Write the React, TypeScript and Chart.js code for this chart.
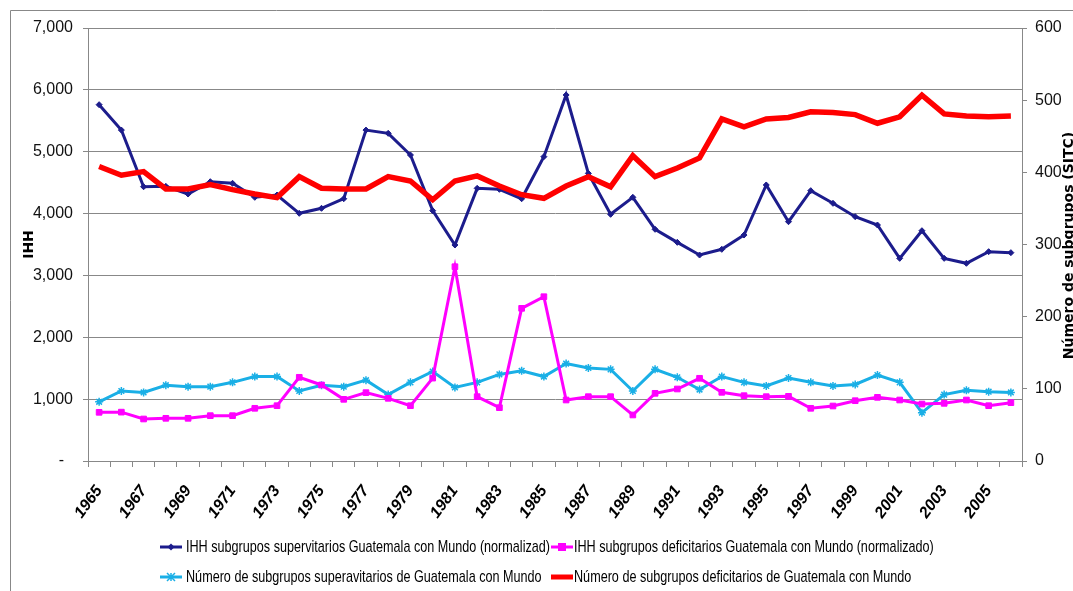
import React, { useEffect, useRef } from 'react';
import { Chart, registerables } from 'chart.js';

Chart.register(...registerables);

const years = [
  '1965', '1966', '1967', '1968', '1969', '1970', '1971', '1972', '1973', '1974',
  '1975', '1976', '1977', '1978', '1979', '1980', '1981', '1982', '1983', '1984',
  '1985', '1986', '1987', '1988', '1989', '1990', '1991', '1992', '1993', '1994',
  '1995', '1996', '1997', '1998', '1999', '2000', '2001', '2002', '2003', '2004',
  '2005', '2006',
];

// IHH subgrupos supervitarios (left axis)
const ihhSuperavit = [
  5760, 5350, 4434, 4440, 4316, 4515, 4489, 4263, 4300, 4004,
  4085, 4240, 5350, 5297, 4947, 4047, 3492, 4408, 4392, 4240,
  4920, 5917, 4650, 3988, 4263, 3746, 3535, 3330, 3422, 3653,
  4462, 3869, 4370, 4166, 3950, 3815, 3276, 3723, 3276, 3196,
  3384, 3368,
];

// IHH subgrupos deficitarios (left axis)
const ihhDeficit = [
  787, 790, 679, 690, 690, 733, 733, 852, 894, 1353,
  1229, 997, 1105, 1013, 894, 1340, 3141, 1040, 862, 2468,
  2656, 986, 1040, 1040, 744, 1094, 1164, 1337, 1110, 1056,
  1040, 1045, 852, 889, 975, 1029, 986, 921, 932, 986,
  894, 943,
];

// Número de subgrupos superavitarios (right axis)
const numSuperavit = [
  82, 97, 95, 105, 103, 103, 109, 117, 117, 97,
  105, 103, 112, 92, 109, 124, 102, 109, 120, 125,
  117, 135, 129, 127, 97, 127, 116, 99, 117, 109,
  104, 115, 109, 104, 106, 119, 109, 67, 92, 98,
  96, 95,
];

// Número de subgrupos deficitarios (right axis)
const numDeficit = [
  408, 396, 401, 377, 377, 383, 376, 370, 365, 394,
  378, 377, 377, 394, 388, 362, 388, 395, 381, 369,
  364, 381, 394, 380, 423, 394, 406, 420, 474, 463,
  474, 476, 484, 483, 480, 468, 477, 507, 481, 478,
  477, 478,
];

const seriesLabels = [
  'IHH subgrupos supervitarios Guatemala con Mundo (normalizad)',
  'IHH subgrupos deficitarios Guatemala con Mundo (normalizado)',
  'Número de subgrupos superavitarios de Guatemala con Mundo',
  'Número de subgrupos deficitarios de Guatemala con Mundo',
];

const leftAxisTitle = 'IHH';
const rightAxisTitle = 'Número de subgrupos (SITC)';

const NAVY = '#1c1c8c';
const MAGENTA = '#ff00ff';
const CYAN = '#1aafe6';
const RED = '#ff0000';
const GRID = '#888888';

const SANS = "'Liberation Sans', Arial, sans-serif";
const BOLDF = "'DejaVu Sans', 'Liberation Sans', sans-serif";

function drawMarker(ctx: CanvasRenderingContext2D, kind: string, x: number, y: number, color: string) {
  ctx.save();
  ctx.fillStyle = color;
  ctx.strokeStyle = color;
  if (kind === 'diamond') {
    const r = 3.5;
    ctx.beginPath();
    ctx.moveTo(x, y - r);
    ctx.lineTo(x + r, y);
    ctx.lineTo(x, y + r);
    ctx.lineTo(x - r, y);
    ctx.closePath();
    ctx.fill();
  } else if (kind === 'square') {
    ctx.fillRect(x - 4, y - 4, 8, 8);
  } else if (kind === 'star') {
    ctx.lineWidth = 1.5;
    const r = 4;
    ctx.beginPath();
    ctx.moveTo(x - r, y - r); ctx.lineTo(x + r, y + r);
    ctx.moveTo(x + r, y - r); ctx.lineTo(x - r, y + r);
    ctx.moveTo(x, y - r); ctx.lineTo(x, y + r);
    ctx.stroke();
  }
  ctx.restore();
}

export default function App() {
  const ref = useRef<HTMLCanvasElement>(null);

  useEffect(() => {
    document.body.style.margin = '0';
    const canvas = ref.current;
    if (!canvas) return;

    const framePlugin = {
      id: 'frame',
      beforeDraw(chart: any) {
        const ctx = chart.ctx as CanvasRenderingContext2D;
        ctx.save();
        ctx.fillStyle = '#ffffff';
        ctx.fillRect(0, 0, chart.width, chart.height);
        ctx.strokeStyle = GRID;
        ctx.lineWidth = 1;
        ctx.beginPath();
        ctx.moveTo(10.5, chart.height);
        ctx.lineTo(10.5, 10.5);
        ctx.lineTo(chart.width + 2, 10.5);
        ctx.stroke();
        ctx.restore();
      },
    };

    const extrasPlugin = {
      id: 'extras',
      afterDraw(chart: any) {
        const ctx = chart.ctx as CanvasRenderingContext2D;
        const area = chart.chartArea;
        // right axis title, reading bottom-to-top
        ctx.save();
        ctx.translate(1069, (area.top + area.bottom) / 2 + 1);
        ctx.rotate(-Math.PI / 2);
        ctx.font = `bold 14px ${BOLDF}`;
        ctx.fillStyle = '#000';
        ctx.textAlign = 'center';
        ctx.textBaseline = 'middle';
        ctx.fillText(rightAxisTitle, 0, 0);
        ctx.restore();

        // legend (two columns, two rows)
        const items = [
          { text: seriesLabels[0], color: NAVY, width: 3, marker: 'diamond' },
          { text: seriesLabels[1], color: MAGENTA, width: 3, marker: 'square' },
          { text: seriesLabels[2], color: CYAN, width: 3, marker: 'star' },
          { text: seriesLabels[3], color: RED, width: 5, marker: 'none' },
        ];
        ctx.save();
        ctx.font = `17px ${SANS}`;
        ctx.textBaseline = 'middle';
        ctx.textAlign = 'left';
        const target = 364;
        const SX = Math.min(1, target / ctx.measureText(items[0].text).width);
        const col1Line = 160;
        const col1Text = 186;
        const w0 = ctx.measureText(items[0].text).width * SX;
        const w2 = ctx.measureText(items[2].text).width * SX;
        const col2Line = Math.max(549, col1Text + Math.max(w0, w2) + 1);
        const col2Text = col2Line + 23;
        const rows = [547, 577];
        items.forEach((it, i) => {
          const row = Math.floor(i / 2);
          const col = i % 2;
          const y = rows[row];
          const lx = col === 0 ? col1Line : col2Line;
          const tx = col === 0 ? col1Text : col2Text;
          ctx.strokeStyle = it.color;
          ctx.lineWidth = it.width;
          ctx.beginPath();
          ctx.moveTo(lx, y);
          ctx.lineTo(lx + 22, y);
          ctx.stroke();
          drawMarker(ctx, it.marker, lx + 11, y, it.color);
          ctx.save();
          ctx.translate(tx, y);
          ctx.scale(SX, 1);
          ctx.fillStyle = '#000';
          ctx.fillText(it.text, 0, 0);
          ctx.restore();
        });
        ctx.restore();
      },
    };

    const chart = new Chart(canvas, {
      type: 'line',
      data: {
        labels: years,
        datasets: [
          {
            label: seriesLabels[0],
            data: ihhSuperavit,
            yAxisID: 'y',
            borderColor: NAVY,
            backgroundColor: NAVY,
            borderWidth: 3,
            pointStyle: 'rectRot',
            pointRadius: 3,
            pointBorderWidth: 1,
            tension: 0,
            order: 1,
          },
          {
            label: seriesLabels[1],
            data: ihhDeficit,
            yAxisID: 'y',
            borderColor: MAGENTA,
            backgroundColor: MAGENTA,
            borderWidth: 3,
            pointStyle: 'rect',
            pointRadius: 4,
            pointBorderWidth: 1,
            tension: 0,
            order: 2,
          },
          {
            label: seriesLabels[2],
            data: numSuperavit,
            yAxisID: 'y1',
            borderColor: CYAN,
            backgroundColor: CYAN,
            borderWidth: 3,
            pointStyle: 'star',
            pointRadius: 4,
            pointBorderWidth: 1.5,
            tension: 0,
            order: 3,
          },
          {
            label: seriesLabels[3],
            data: numDeficit,
            yAxisID: 'y1',
            borderColor: RED,
            backgroundColor: RED,
            borderWidth: 5.5,
            pointRadius: 0,
            tension: 0,
            order: 0,
          },
        ],
      },
      options: {
        responsive: false,
        animation: false,
        events: [],
        layout: { padding: { left: 0, right: 0, top: 28, bottom: 0 } },
        plugins: {
          legend: { display: false },
          tooltip: { enabled: false },
          title: { display: false },
        },
        scales: {
          x: {
            type: 'category',
            offset: true,
            afterFit: (scale: any) => { scale.height = 130; },
            grid: {
              offset: true,
              drawOnChartArea: false,
              drawTicks: true,
              tickLength: 6,
              color: GRID,
            },
            border: { display: true, color: GRID, width: 1 },
            ticks: {
              autoSkip: false,
              maxRotation: 54,
              minRotation: 54,
              padding: 15,
              color: '#000',
              font: { family: SANS, size: 16, weight: 'bold', style: 'italic' },
              callback: function (this: any, value: any, index: number) {
                return index % 2 === 0 ? years[index] : '';
              },
            },
          },
          y: {
            position: 'left',
            min: 0,
            max: 7000,
            afterFit: (scale: any) => { scale.width = 88; },
            grid: {
              color: GRID,
              lineWidth: 1,
              drawTicks: true,
              tickLength: 5,
            },
            border: { display: true, color: GRID, width: 1 },
            ticks: {
              stepSize: 1000,
              padding: 10,
              color: '#111',
              font: { family: SANS, size: 16 },
              callback: (v: any) => (Number(v) === 0 ? '-  ' : Number(v).toLocaleString('en-US')),
            },
            title: {
              display: true,
              text: leftAxisTitle,
              color: '#000',
              font: { family: BOLDF, size: 14, weight: 'bold' },
              padding: { top: 20.5, bottom: 0 },
            },
          },
          y1: {
            position: 'right',
            min: 0,
            max: 600,
            afterFit: (scale: any) => { scale.width = 51; },
            grid: {
              drawOnChartArea: false,
              drawTicks: true,
              tickLength: 5,
              color: GRID,
            },
            border: { display: true, color: GRID, width: 1 },
            ticks: {
              stepSize: 100,
              padding: 8,
              color: '#111',
              font: { family: SANS, size: 16 },
            },
          },
        },
      },
      plugins: [framePlugin, extrasPlugin],
    } as any);

    return () => chart.destroy();
  }, []);

  return (
    <canvas
      ref={ref}
      width={1073}
      height={591}
      style={{ display: 'block', width: '1073px', height: '591px' }}
    />
  );
}
